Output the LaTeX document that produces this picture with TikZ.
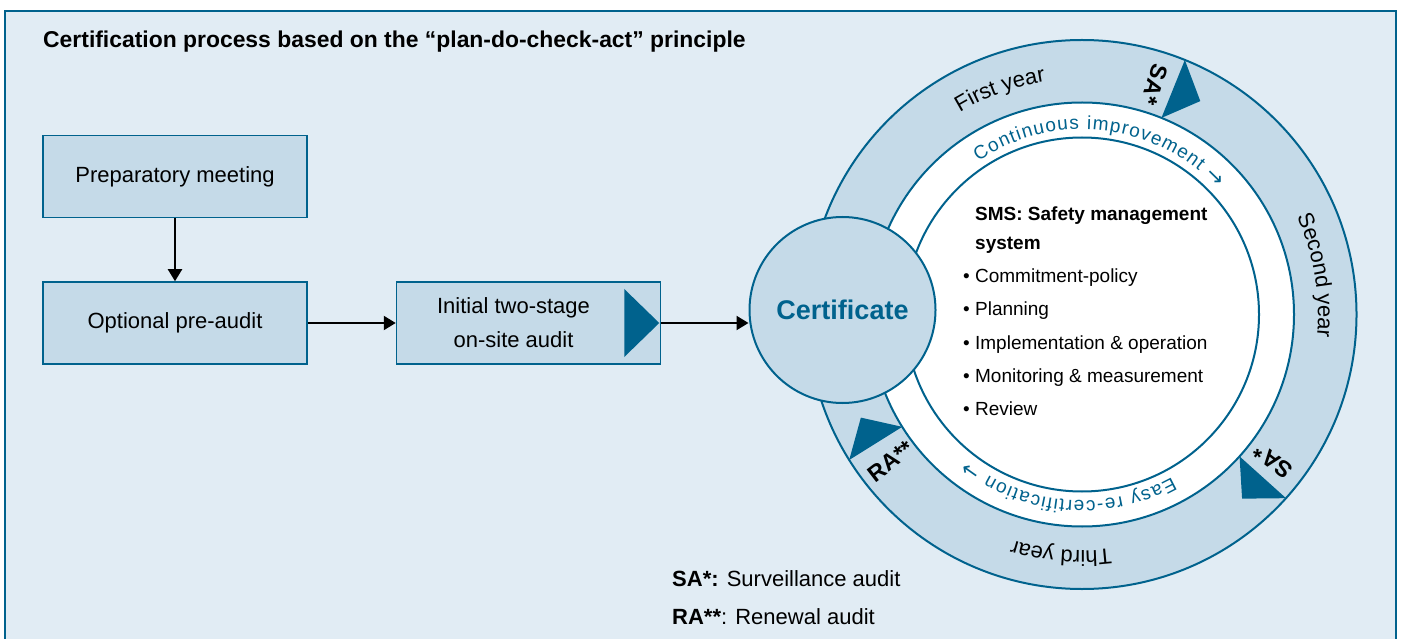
\documentclass[tikz,border=0pt]{standalone}
\usepackage{fontspec}
\setmainfont{Liberation Sans}
\newfontfamily\arrowfont{DejaVu Sans}
\usetikzlibrary{arrows.meta,positioning,calc,decorations.text}

\definecolor{framebg}{HTML}{E1ECF4}
\definecolor{paleblue}{HTML}{C5DAE8}
\definecolor{deepteal}{HTML}{00628D}

\tikzset{
  stepbox/.style={draw=deepteal, line width=1.5pt, fill=paleblue,
    minimum width=264pt, minimum height=82pt, align=center,
    font=\fontsize{22}{34}\selectfont},
  flow/.style={-{Triangle[length=12pt,width=14pt]}, line width=2pt},
  ringline/.style={draw=deepteal, line width=2pt},
}

\begin{document}
\begin{tikzpicture}[x=1pt,y=1pt,node distance=63pt]
  \useasboundingbox (0,0) rectangle (1402,638);

  % frame and title
  \draw[deepteal, line width=2pt, fill=framebg] (5,627) rectangle (1396,-20);
  \node[anchor=base west, inner sep=0pt, font=\bfseries\fontsize{22.9}{24}\selectfont]
    (title) at (43,590) {Certification process based on the “plan-do-check-act” principle};

  % the ring
  \coordinate (hub) at (1082,323.5);
  \fill[paleblue, ringline] (hub) circle[radius=274.5];
  \fill[white, ringline] (hub) circle[radius=212];
  \draw[ringline] (hub) circle[radius=177];

  \path[decorate, decoration={text along path, text align=center,
      text={|\fontsize{22}{22}\selectfont|First year}}]
    ($(hub)+(140:236)$) arc[start angle=140, end angle=80, radius=236];
  \path[decorate, decoration={text along path, text align=center,
      text={|\fontsize{22}{22}\selectfont|Second year}}]
    ($(hub)+(40:236)$) arc[start angle=40, end angle=-21, radius=236];
  \path[decorate, decoration={text along path, text align=center,
      text={|\fontsize{22}{22}\selectfont|Third year}}]
    ($(hub)+(-65:236)$) arc[start angle=-65, end angle=-125, radius=236];

  \path[decorate, decoration={text along path, text align=fit to path,
      text={|\color{deepteal}\fontsize{19}{19}\selectfont|Continuous improvement |\arrowfont\color{deepteal}\fontsize{21}{21}\selectfont|→}}]
    ($(hub)+(124:185)$) arc[start angle=124, end angle=43, radius=185];
  \path[decorate, decoration={text along path, text align=fit to path,
      text={|\color{deepteal}\fontsize{19}{19}\selectfont|Easy re-certification |\arrowfont\color{deepteal}\fontsize{21}{21}\selectfont|→}}]
    ($(hub)+(-61:186)$) arc[start angle=-61, end angle=-128, radius=186];

  % audit markers
  \foreach \ang/\mtext/\gap in {68/SA*/4.5, -42/SA*/4.5, 212/RA**/5.5} {
    \fill[deepteal] ($(hub)+(\ang:212)$) -- ($(hub)+(\ang:274.5)$)
      -- ($(hub)+(\ang-7:244)$) -- cycle;
    \node[rotate=\ang+\gap+180, inner sep=0pt, font=\bfseries\fontsize{23}{23}\selectfont]
      at ($(hub)+(\ang+\gap:241)$) {\mtext};
  }

  % management system
  \node[anchor=north west, align=left, inner sep=0pt, font=\fontsize{19}{33.3}\selectfont]
    (sms) at (963,431) {\hspace*{12pt}\textbf{SMS: Safety management}\\[-5pt]
      \hspace*{12pt}\textbf{system}\\
      • Commitment-policy\\
      • Planning\\
      • Implementation \& operation\\
      • Monitoring \& measurement\\
      • Review};

  \node[circle, minimum size=186pt, draw=deepteal, line width=2pt, fill=paleblue,
    text=deepteal, font=\bfseries\fontsize{27}{27}\selectfont] (cert) at (842.5,328)
    {\raisebox{-4pt}{Certificate}};

  % process steps
  \node[stepbox] (prep) at (175,461.5) {Preparatory meeting};
  \node[stepbox, below=of prep] (preaudit) {Optional pre-audit};
  \node[stepbox, right=88pt of preaudit] (initial)
    {Initial two-stage\hspace*{30pt}\\on-site audit\hspace*{30pt}};
  \fill[deepteal] ($(initial.east)+(-37,34)$) -- ($(initial.east)+(-2,0)$)
    -- ($(initial.east)+(-37,-34)$) -- cycle;

  \draw[flow] (prep) -- (preaudit);
  \draw[flow] (preaudit) -- (initial);
  \draw[flow] (initial.east) -- (initial.east -| cert.west);

  % legend
  \node[anchor=base west, inner sep=0pt, font=\fontsize{22}{22}\selectfont]
    (legsa) at (672,52) {\textbf{SA*:} Surveillance audit};
  \node[anchor=base west, inner sep=0pt, font=\fontsize{22}{22}\selectfont]
    (legra) at (672,14) {\textbf{RA**}: Renewal audit};
\end{tikzpicture}
\end{document}
